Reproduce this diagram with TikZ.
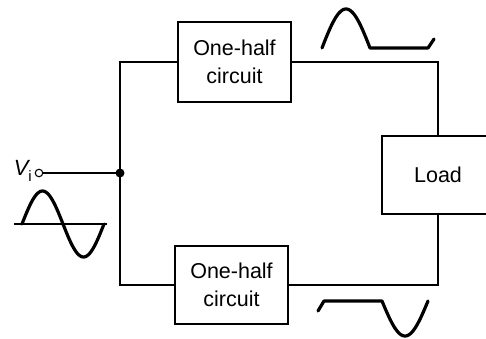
\documentclass[tikz,border=0pt]{standalone}
\usepackage{fontspec}
\setmainfont{Liberation Sans}
\begin{document}
\begin{tikzpicture}[x=1pt,y=-1pt,
  wire/.style={line width=1.2pt},
  box/.style={draw, line width=1.2pt, minimum width=113pt, minimum height=80pt, inner sep=0pt, align=center, font=\fontsize{21.5}{28}\selectfont},
  wave/.style={line width=3.2pt, line cap=round, line join=round}]
\useasboundingbox (0,0) rectangle (486,338);
\clip (0,0) rectangle (486,338);
% blocks
\node[box] (top) at (234.5,62) {One-half\\circuit};
\node[box, minimum height=78pt] (bot) at (231.5,285) {One-half\\circuit};
\node[box, minimum width=112pt, minimum height=78pt] (load) at (438,175) {Load};
% input
\coordinate (j) at (120,173);
\node[circle, draw, line width=1.1pt, minimum size=7.5pt, inner sep=0pt, fill=white] (term) at (39,173) {};
\node[font=\fontsize{22}{24}\selectfont, inner sep=0pt, anchor=east] (vi) at (32,171) {\itshape V\upshape\raisebox{-6pt}{\fontsize{15}{15}\selectfont i}};
% wires
\draw[wire] (term.east) -- (j);
\draw[wire] (top.west) -| (j) |- (bot.west);
\draw[wire] (top.east) -| (load.north);
\draw[wire] (bot.east) -| (load.south);
\fill (j) circle (4.5pt);
% input waveform
\draw[wire] (14,224) -- (107,224);
\draw[wave] plot[domain=22:104, samples=60] (\x,{224-33*sin(4.3902*(\x-22))});
% top output waveform
\draw[wave] plot[domain=322:370, samples=40] (\x,{48-39*sin(3.75*(\x-322))}) -- (428,48) -- (434,39);
% bottom output waveform
\draw[wave] (318,311) -- (324,301) -- (382,301) -- plot[domain=382:428, samples=40] (\x,{301+35*sin(3.913*(\x-382))});
\end{tikzpicture}
\end{document}
